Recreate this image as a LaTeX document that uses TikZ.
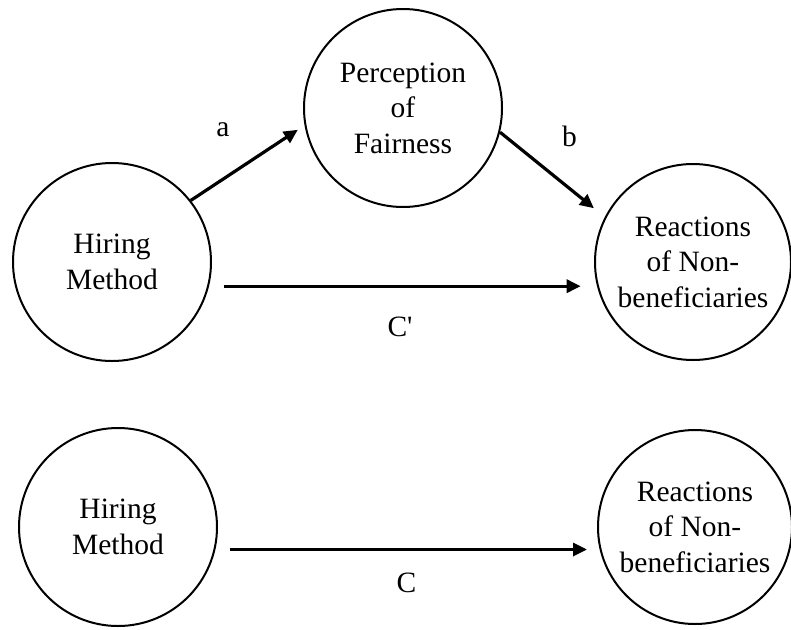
\documentclass[tikz,border=0pt]{standalone}
\usepackage{fontspec}
\setmainfont{Liberation Serif}
\newfontfamily\rawserif{Liberation Serif}
\usetikzlibrary{arrows.meta}
\tikzset{
  var/.style={circle, draw, line width=2pt, inner sep=0pt, minimum size=#1, align=center,
    font=\fontsize{29.5pt}{35.5pt}\selectfont},
  path/.style={line width=3.2pt, -{Triangle[length=14pt,width=13pt]}},
  lbl/.style={inner sep=0pt, font=\rawserif\fontsize{29.5pt}{35.5pt}\selectfont}
}
\begin{document}
\begin{tikzpicture}[x=1pt,y=-1pt]
\useasboundingbox (0,0) rectangle (791,629);
\node[var=198pt] (pf) at (403,108) {Perception\\of\\Fairness};
\node[var=198pt] (hm1) at (112,262) {Hiring\\Method};
\node[var=196pt] (rn1) at (693,262) {Reactions\\of Non-\\beneficiaries};
\node[var=198pt] (hm2) at (118,527) {Hiring\\Method};
\node[var=194pt] (rn2) at (695,527) {Reactions\\of Non-\\beneficiaries};
\draw[path, shorten >=8pt] (hm1.38) -- (pf.190);
\draw[path, shorten >=14pt] (pf.-14) -- (rn1.153);
\draw[path, shorten <=14.5pt, shorten >=13.3pt] (hm1.-14) -- (hm1.-14 -| rn1.west);
\draw[path, shorten <=14.5pt, shorten >=10pt] (hm2.-13) -- (hm2.-13 -| rn2.west);
\node[lbl] (la) at (223,130) {a};
\node[lbl] (lb) at (569.5,136.5) {b};
\node[lbl] (lcp) at (400,327) {C'};
\node[lbl] (lc) at (406.5,582.5) {C};
\end{tikzpicture}
\end{document}
